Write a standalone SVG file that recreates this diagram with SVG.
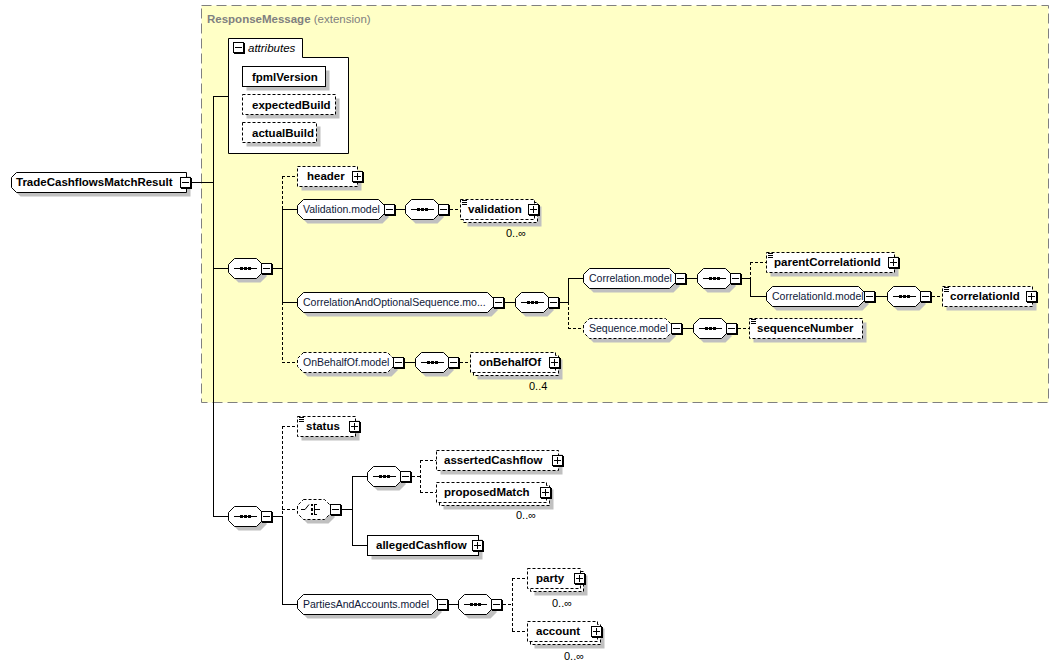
<svg xmlns="http://www.w3.org/2000/svg" xmlns:xlink="http://www.w3.org/1999/xlink" width="1060" height="667" viewBox="0 0 1060 667">
<style>
.bx{fill:#fff;stroke:#000;stroke-width:1}
.ds{stroke-dasharray:3 2}
.sh{fill:#c0c0c0;stroke:none}
.c{fill:none;stroke:#000;stroke-width:1}
.d{fill:none;stroke:#000;stroke-width:1;stroke-dasharray:3 2}
.b{font-family:"Liberation Sans",Arial,sans-serif;font-weight:bold;font-size:11.5px;fill:#000}
.g{font-family:"Liberation Sans",Arial,sans-serif;font-size:10.5px;fill:#0e1838}
.m{font-family:"Liberation Sans",Arial,sans-serif;font-size:11px;fill:#000}
.it{font-family:"Liberation Sans",Arial,sans-serif;font-style:italic;font-size:11.5px;fill:#000}
.ext{font-family:"Liberation Sans",Arial,sans-serif;font-size:11.5px;fill:#808080}
</style>
<defs>
<g id="mb"><rect x="1" y="1" width="11" height="11" fill="#000"/><rect x="0.5" y="0.5" width="10" height="10" fill="#fff" stroke="#000"/><path d="M2 5.5H9" stroke="#000"/></g>
<g id="pb"><rect x="1" y="1" width="11" height="11" fill="#000"/><rect x="0.5" y="0.5" width="10" height="10" fill="#fff" stroke="#000"/><path d="M2 5.5H9M5.5 2V9" stroke="#000"/></g>
<g id="st"><path d="M2 1.5H7M2 3.5H7M2 5.5H7" stroke="#000"/></g>
<g id="seq">
<path class="sh" d="M10.5 -5.5H32.5L38.5 0.5V8.5L32.5 14.5H10.5L4.5 8.5V0.5Z"/>
<path class="bx" d="M6.5 -9.5H28.5L34.5 -3.5V4.5L28.5 10.5H6.5L0.5 4.5V-3.5Z"/>
<path class="c" d="M6 0.5H29"/>
<path d="M12 -1h3v3h-3zM16 -1h3v3h-3zM20 -1h3v3h-3z" fill="#000"/>
<use href="#mb" x="33" y="-5"/>
</g>
</defs>

<rect width="1060" height="667" fill="#fff"/>

<g id="ext-ResponseMessage">
<rect x="201.5" y="5.5" width="847" height="397" fill="#ffffc6" stroke="#808080" stroke-dasharray="10 5"/>
<text class="ext" x="207" y="23"><tspan font-weight="bold">ResponseMessage</tspan> (extension)</text>
</g>

<g id="connectors">
<path class="c" d="M192 182.5H213.5M213.5 96V516.5M213 96.5H228.5M213 268.5H228M213 516.5H228"/>
<path class="c" d="M273 268.5H282.5M282.5 209V302.5M282 209.5H297.5M396 209.5H405M282 302.5H297.5M505 302.5H515M560 302.5H568.5M568.5 278V302.5M568 278.5H583.5M687 278.5H697M742 278.5H750.5M750.5 278V296.5M750 296.5H766.5M876 296.5H887M405 362.5H415M683 328.5H693"/>
<path class="c" d="M273 516.5H282.5M282.5 516V604.5M282 604.5H297.5M342 509.5H352.5M352.5 476V545.5M352 476.5H367M352 545.5H367.5M449 604.5H458"/>
<path class="d" d="M282.5 176V209M282 176.5H297.5M282.5 302V362.5M282 362.5H297.5M450 209.5H460.5M568.5 302V328.5M568 328.5H583.5M750.5 262V278M750 262.5H766.5M932 296.5H942.5M738 328.5H749.5M460 362.5H470.5"/>
<path class="d" d="M282.5 426V516M282 426.5H297.5M282 509.5H297.5M412 476.5H420.5M420.5 460V492.5M420 460.5H436.5M420 492.5H436.5M503 604.5H512.5M512.5 578V631.5M512 578.5H527.5M512 631.5H527.5"/>
</g>

<g id="n-TradeCashflowsMatchResult">
<path class="sh" d="M20.5 176.5H190.5V196.5H20.5L15.5 191.5V181.5Z"/>
<path class="bx" d="M16.5 172.5H186.5V192.5H16.5L11.5 187.5V177.5Z"/>
<text class="b" x="16" y="186">TradeCashflowsMatchResult</text>
<use href="#mb" x="180" y="177"/>
</g>

<g id="n-attributes">
<path class="bx" d="M228.5 38.5H302.5V57.5H348.5V153.5H228.5Z"/>
<use href="#mb" x="233" y="42"/>
<text class="it" x="248" y="52">attributes</text>
</g>
<g id="n-fpmlVersion">
<rect class="sh" x="246.5" y="70.5" width="83" height="20"/>
<rect class="bx" x="242.5" y="66.5" width="83" height="20"/>
<text class="b" x="252" y="80.5">fpmlVersion</text>
</g>
<g id="n-expectedBuild">
<rect class="sh" x="246.5" y="98.5" width="93" height="20"/>
<rect class="bx ds" x="242.5" y="94.5" width="93" height="20"/>
<text class="b" x="252" y="108.5">expectedBuild</text>
</g>
<g id="n-actualBuild">
<rect class="sh" x="246.5" y="126.5" width="74" height="20"/>
<rect class="bx ds" x="242.5" y="122.5" width="74" height="20"/>
<text class="b" x="252" y="136.5">actualBuild</text>
</g>

<g id="n-seq1"><use href="#seq" x="228" y="268"/></g>

<g id="n-header">
<rect class="sh" x="301.5" y="170.5" width="60" height="20"/>
<rect class="bx ds" x="297.5" y="166.5" width="60" height="20"/>
<text class="b" x="307" y="180">header</text>
<use href="#pb" x="352" y="171"/>
</g>

<g id="n-Validation.model">
<path class="sh" d="M307.5 203.5H382.5L388.5 209.5V217.5L382.5 223.5H307.5L301.5 217.5V209.5Z"/>
<path class="bx" d="M303.5 199.5H378.5L384.5 205.5V213.5L378.5 219.5H303.5L297.5 213.5V205.5Z"/>
<text class="g" x="303" y="213">Validation.model</text>
<use href="#mb" x="384" y="204"/>
</g>
<g id="n-seqA"><use href="#seq" x="405" y="209"/></g>
<g id="n-validation">
<rect class="sh" x="467.5" y="206.5" width="74" height="20"/>
<rect class="bx ds" x="463.5" y="202.5" width="74" height="20"/>
<rect class="bx ds" x="460.5" y="199.5" width="74" height="20"/>
<use href="#st" x="460" y="199"/>
<text class="b" x="468" y="213">validation</text>
<use href="#pb" x="528" y="204"/>
<text class="m" x="506" y="237">0..∞</text>
</g>

<g id="n-CorrelationAndOptionalSequence.model">
<path class="sh" d="M307.5 296.5H491.5L497.5 302.5V310.5L491.5 316.5H307.5L301.5 310.5V302.5Z"/>
<path class="bx" d="M303.5 292.5H487.5L493.5 298.5V306.5L487.5 312.5H303.5L297.5 306.5V298.5Z"/>
<text class="g" x="303" y="306">CorrelationAndOptionalSequence.mo...</text>
<use href="#mb" x="493" y="297"/>
</g>
<g id="n-seqB"><use href="#seq" x="515" y="302"/></g>

<g id="n-Correlation.model">
<path class="sh" d="M593.5 272.5H673.5L679.5 278.5V286.5L673.5 292.5H593.5L587.5 286.5V278.5Z"/>
<path class="bx" d="M589.5 268.5H669.5L675.5 274.5V282.5L669.5 288.5H589.5L583.5 282.5V274.5Z"/>
<text class="g" x="589" y="282">Correlation.model</text>
<use href="#mb" x="675" y="273"/>
</g>
<g id="n-seqC"><use href="#seq" x="697" y="278"/></g>
<g id="n-parentCorrelationId">
<rect class="sh" x="770.5" y="256.5" width="128" height="20"/>
<rect class="bx ds" x="766.5" y="252.5" width="128" height="20"/>
<use href="#st" x="766" y="252"/>
<text class="b" x="774" y="266">parentCorrelationId</text>
<use href="#pb" x="888" y="257"/>
</g>
<g id="n-CorrelationId.model">
<path class="sh" d="M776.5 290.5H862.5L868.5 296.5V304.5L862.5 310.5H776.5L770.5 304.5V296.5Z"/>
<path class="bx" d="M772.5 286.5H858.5L864.5 292.5V300.5L858.5 306.5H772.5L766.5 300.5V292.5Z"/>
<text class="g" x="772" y="300">CorrelationId.model</text>
<use href="#mb" x="864" y="291"/>
</g>
<g id="n-seqD"><use href="#seq" x="887" y="296"/></g>
<g id="n-correlationId">
<rect class="sh" x="946.5" y="290.5" width="90" height="20"/>
<rect class="bx ds" x="942.5" y="286.5" width="90" height="20"/>
<use href="#st" x="942" y="286"/>
<text class="b" x="950" y="300">correlationId</text>
<use href="#pb" x="1026" y="291"/>
</g>

<g id="n-Sequence.model">
<path class="sh" d="M593.5 322.5H669.5L675.5 328.5V336.5L669.5 342.5H593.5L587.5 336.5V328.5Z"/>
<path class="bx ds" d="M589.5 318.5H665.5L671.5 324.5V332.5L665.5 338.5H589.5L583.5 332.5V324.5Z"/>
<text class="g" x="589" y="332">Sequence.model</text>
<use href="#mb" x="671" y="323"/>
</g>
<g id="n-seqE"><use href="#seq" x="693" y="328"/></g>
<g id="n-sequenceNumber">
<rect class="sh" x="753.5" y="322.5" width="113" height="20"/>
<rect class="bx ds" x="749.5" y="318.5" width="113" height="20"/>
<use href="#st" x="749" y="318"/>
<text class="b" x="757" y="332">sequenceNumber</text>
</g>

<g id="n-OnBehalfOf.model">
<path class="sh" d="M307.5 356.5H391.5L397.5 362.5V370.5L391.5 376.5H307.5L301.5 370.5V362.5Z"/>
<path class="bx ds" d="M303.5 352.5H387.5L393.5 358.5V366.5L387.5 372.5H303.5L297.5 366.5V358.5Z"/>
<text class="g" x="303" y="366">OnBehalfOf.model</text>
<use href="#mb" x="393" y="357"/>
</g>
<g id="n-seqF"><use href="#seq" x="415" y="362"/></g>
<g id="n-onBehalfOf">
<rect class="sh" x="477.5" y="359.5" width="85" height="20"/>
<rect class="bx ds" x="473.5" y="355.5" width="85" height="20"/>
<rect class="bx ds" x="470.5" y="352.5" width="85" height="20"/>
<text class="b" x="479" y="366">onBehalfOf</text>
<use href="#pb" x="549" y="357"/>
<text class="m" x="529" y="390">0..4</text>
</g>

<g id="n-seq2"><use href="#seq" x="228" y="516"/></g>

<g id="n-status">
<rect class="sh" x="301.5" y="420.5" width="58" height="20"/>
<rect class="bx ds" x="297.5" y="416.5" width="58" height="20"/>
<use href="#st" x="297" y="416"/>
<text class="b" x="306" y="430">status</text>
<use href="#pb" x="349" y="421"/>
</g>

<g id="n-choice">
<path class="sh" d="M307.5 503.5H328.5L334.5 509.5V517.5L328.5 523.5H307.5L301.5 517.5V509.5Z"/>
<path class="bx ds" d="M303.5 499.5H324.5L330.5 505.5V513.5L324.5 519.5H303.5L297.5 513.5V505.5Z"/>
<path class="c" d="M301 509.5H305L309 504.5M314.5 504V515M314 504.5H317M314 514.5H317M314 509.5H320"/>
<path d="M311 504h2v2h-2zM311 508h2v3h-2zM311 513h2v2h-2z" fill="#000"/>
<use href="#mb" x="330" y="504"/>
</g>

<g id="n-seqG"><use href="#seq" x="367" y="476"/></g>
<g id="n-assertedCashflow">
<rect class="sh" x="440.5" y="454.5" width="122" height="20"/>
<rect class="bx ds" x="436.5" y="450.5" width="122" height="20"/>
<text class="b" x="444" y="464">assertedCashflow</text>
<use href="#pb" x="552" y="455"/>
</g>
<g id="n-proposedMatch">
<rect class="sh" x="443.5" y="489.5" width="110" height="20"/>
<rect class="bx ds" x="439.5" y="485.5" width="110" height="20"/>
<rect class="bx ds" x="436.5" y="482.5" width="110" height="20"/>
<text class="b" x="444" y="496">proposedMatch</text>
<use href="#pb" x="540" y="487"/>
<text class="m" x="516" y="519">0..∞</text>
</g>
<g id="n-allegedCashflow">
<rect class="sh" x="371.5" y="539.5" width="111" height="20"/>
<rect class="bx" x="367.5" y="535.5" width="111" height="20"/>
<text class="b" x="376" y="549">allegedCashflow</text>
<use href="#pb" x="472" y="540"/>
</g>

<g id="n-PartiesAndAccounts.model">
<path class="sh" d="M307.5 598.5H435.5L441.5 604.5V612.5L435.5 618.5H307.5L301.5 612.5V604.5Z"/>
<path class="bx" d="M303.5 594.5H431.5L437.5 600.5V608.5L431.5 614.5H303.5L297.5 608.5V600.5Z"/>
<text class="g" x="303" y="608">PartiesAndAccounts.model</text>
<use href="#mb" x="437" y="599"/>
</g>
<g id="n-seqH"><use href="#seq" x="458" y="604"/></g>
<g id="n-party">
<rect class="sh" x="534.5" y="575.5" width="53" height="20"/>
<rect class="bx ds" x="530.5" y="571.5" width="53" height="20"/>
<rect class="bx ds" x="527.5" y="568.5" width="53" height="20"/>
<text class="b" x="536" y="582">party</text>
<use href="#pb" x="574" y="573"/>
<text class="m" x="552" y="607">0..∞</text>
</g>
<g id="n-account">
<rect class="sh" x="534.5" y="628.5" width="70" height="20"/>
<rect class="bx ds" x="530.5" y="624.5" width="70" height="20"/>
<rect class="bx ds" x="527.5" y="621.5" width="70" height="20"/>
<text class="b" x="536" y="635">account</text>
<use href="#pb" x="591" y="626"/>
<text class="m" x="564" y="660">0..∞</text>
</g>
</svg>
